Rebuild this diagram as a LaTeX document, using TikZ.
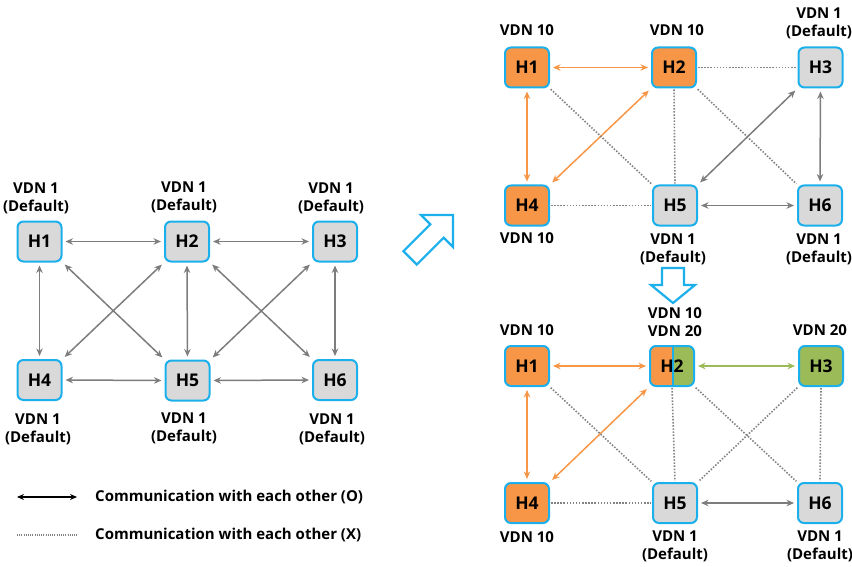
\documentclass[tikz,border=0pt]{standalone}
\usepackage{fontspec}
\setmainfont{Open Sans}
\usetikzlibrary{arrows.meta}
\definecolor{nodeblue}{RGB}{27,176,236}
\definecolor{hgray}{RGB}{217,217,217}
\definecolor{horange}{RGB}{247,150,70}
\definecolor{hgreen}{RGB}{155,187,89}
\definecolor{arrgray}{RGB}{125,125,125}
\definecolor{dotgray}{RGB}{130,130,130}
\newcommand{\hfont}{\bfseries\fontsize{17.5}{17.5}\selectfont}
\newcommand{\lfont}{\bfseries\fontsize{15}{18}\selectfont}
\newcommand{\legfont}{\bfseries\fontsize{15}{16}\selectfont}
\tikzset{
  host/.style={draw=nodeblue, line width=2pt, rounded corners=6pt, minimum width=44pt, minimum height=40pt, inner sep=0pt, font=\hfont},
  gnode/.style={host, fill=hgray},
  onode/.style={host, fill=horange},
  grnode/.style={host, fill=hgreen},
  lbl/.style={font=\lfont, align=center, inner sep=0pt},
  biarr/.style={line width=1.5pt, {Stealth[length=7.5pt,width=6.5pt]}-{Stealth[length=7.5pt,width=6.5pt]}, shorten <=3pt, shorten >=3pt},
  garr/.style={biarr, draw=arrgray},
  oarr/.style={biarr, draw=horange},
  grarr/.style={biarr, draw=hgreen},
  dotl/.style={draw=dotgray, line width=1.6pt, dash pattern=on 1.5pt off 1.6pt, shorten <=1pt, shorten >=1pt},
  blockarrow/.style={draw=nodeblue, line width=2.2pt, line join=miter, fill=white},
}
\begin{document}
\begin{tikzpicture}[x=1pt,y=-1pt]
\useasboundingbox (0,0) rectangle (852,567);

% ---------- left diagram ----------
\node[gnode] (a1) at (39.5,241.5) {H1};
\node[gnode] (a2) at (187,241.5) {H2};
\node[gnode] (a3) at (335,241.5) {H3};
\node[gnode] (a4) at (39.5,380) {H4};
\node[gnode] (a5) at (187.5,380.5) {H5};
\node[gnode] (a6) at (335,380) {H6};

\node[lbl] (la1) at (36,198) {VDN 1\\(Default)};
\node[lbl] (la2) at (184,197) {VDN 1\\(Default)};
\node[lbl] (la3) at (331,198) {VDN 1\\(Default)};
\node[lbl] (la4) at (38,429) {VDN 1\\(Default)};
\node[lbl] (la5) at (184,428) {VDN 1\\(Default)};
\node[lbl] (la6) at (332,429) {VDN 1\\(Default)};

\draw[garr] (a1.east) -- (a2.west);
\draw[garr] (a2.east) -- (a3.west);
\draw[garr] (a4.east) -- (a5.west);
\draw[garr] (a5.east) -- (a6.west);
\draw[garr] (a1.south) -- (a4.north);
\draw[garr] (a2.south) -- (a5.north);
\draw[garr] (a3.south) -- (a6.north);
\draw[garr] (a1.south east) -- (a5.north west);
\draw[garr] (a2.south west) -- (a4.north east);
\draw[garr] (a2.south east) -- (a6.north west);
\draw[garr] (a3.south west) -- (a5.north east);

% ---------- legend ----------
\coordinate (l1a) at (17,497);
\coordinate (l1b) at (77,497);
\coordinate (l2a) at (17,535);
\coordinate (l2b) at (77,535);
\draw[line width=1.3pt, {Stealth[length=7pt,width=6pt]}-{Stealth[length=7pt,width=6pt]}] (l1a) -- (l1b);
\draw[dotgray, line width=1.1pt, dash pattern=on 1pt off 1.2pt] (l2a) -- (l2b);
\node[font=\legfont, anchor=west, inner sep=0pt] (t1) at (95,497) {Communication with each other (O)};
\node[font=\legfont, anchor=west, inner sep=0pt] (t2) at (95,535) {Communication with each other (X)};

% ---------- block arrows ----------
\draw[blockarrow] (421,215) -- (453,215) -- (453,247) -- (443.7,237.7) -- (416.8,264.6) -- (403.4,251.2) -- (430.3,224.3) -- cycle;
\draw[blockarrow] (662,268) -- (684,268) -- (684,285) -- (695,285) -- (673,303) -- (651,285) -- (662,285) -- cycle;

% ---------- right top ----------
\node[onode] (c1) at (527,67.5) {H1};
\node[onode] (c2) at (674,67.5) {H2};
\node[gnode] (c3) at (820.5,67.5) {H3};
\node[onode] (c4) at (527,205.5) {H4};
\node[gnode] (c5) at (675,205.5) {H5};
\node[gnode] (c6) at (820,205.5) {H6};

\node[lbl] (lc1) at (527,30) {VDN 10};
\node[lbl] (lc2) at (677,30) {VDN 10};
\node[lbl] (lc3) at (819,23.5) {VDN 1\\(Default)};
\node[lbl] (lc4) at (527,238) {VDN 10};
\node[lbl] (lc5) at (673,249) {VDN 1\\(Default)};
\node[lbl] (lc6) at (819,249) {VDN 1\\(Default)};

\draw[oarr] (c1.east) -- (c2.west);
\draw[oarr] (c1.south) -- (c4.north);
\draw[oarr] (c2.south west) -- (c4.north east);
\draw[dotl] (c2.east) -- (c3.west);
\draw[dotl] (c1.south east) -- (c5.north west);
\draw[dotl] (c2.south) -- (c5.north);
\draw[dotl] (c2.south east) -- (c6.north west);
\draw[dotl] (c4.east) -- (c5.west);
\draw[garr] (c3.south west) -- (c5.north east);
\draw[garr] (c3.south) -- (c6.north);
\draw[garr] (c5.east) -- (c6.west);

% ---------- right bottom ----------
\node[onode] (d1) at (527,366) {H1};
\begin{scope}
  \clip[rounded corners=6pt] (650,346) rectangle (694,386);
  \fill[horange] (650,346) rectangle (672,386);
  \fill[hgreen] (672,346) rectangle (694,386);
\end{scope}
\draw[nodeblue, line width=2pt] (672.5,346) -- (672.5,386);
\node[host] (d2) at (672,366) {H2};
\node[grnode] (d3) at (821,366) {H3};
\node[onode] (d4) at (527,503) {H4};
\node[gnode] (d5) at (675,503) {H5};
\node[gnode] (d6) at (820,503) {H6};

\node[lbl] (ld1) at (527,330) {VDN 10};
\node[lbl] (ld2) at (675,322.5) {VDN 10\\VDN 20};
\node[lbl] (ld3) at (820,330) {VDN 20};
\node[lbl] (ld4) at (527,537) {VDN 10};
\node[lbl] (ld5) at (675,546.5) {VDN 1\\(Default)};
\node[lbl] (ld6) at (820,546.5) {VDN 1\\(Default)};

\draw[oarr] (d1.east) -- (d2.west);
\draw[oarr] (d1.south) -- (d4.north);
\draw[oarr] (d2.south west) -- (d4.north east);
\draw[grarr] (d2.east) -- (d3.west);
\draw[dotl] (d1.south east) -- (d5.north west);
\draw[dotl] (d2.south) -- (d5.north);
\draw[dotl] (d2.south east) -- (d6.north west);
\draw[dotl] (d3.south west) -- (d5.north east);
\draw[dotl] (d3.south) -- (d6.north);
\draw[dotl] (d4.east) -- (d5.west);
\draw[garr] (d5.east) -- (d6.west);
\end{tikzpicture}
\end{document}
